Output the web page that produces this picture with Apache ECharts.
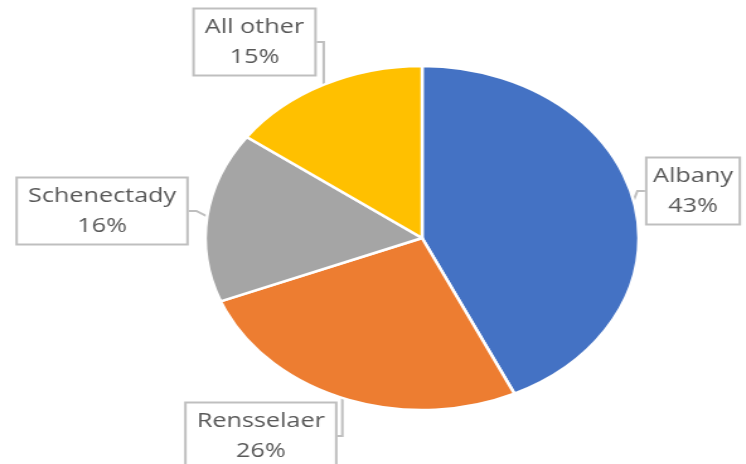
<!DOCTYPE html>
<html>
<head>
<meta charset="utf-8">
<script src="https://cdn.jsdelivr.net/npm/echarts@6/dist/echarts.min.js"></script>
<style>
  html, body { margin: 0; padding: 0; background: #fff; overflow: hidden; }
  #wrap { width: 746px; height: 464px; overflow: hidden; }
  /* the reference is stretched sideways, so draw narrow and widen */
  #chart { width: 592px; height: 464px; transform: scaleX(1.26); transform-origin: 0 0; }
</style>
</head>
<body>
<div id="wrap"><div id="chart"></div></div>
<script>
const categories = ['Albany', 'Rensselaer', 'Schenectady', 'All other']
const values = [43, 26, 16, 15]
const colors = ['#4472C4', '#ED7D31', '#A5A5A5', '#FFC000']
// label box centres (unscaled px)
const labelPos = [[550, 191], [207, 436], [81, 211], [202, 42]]

const myChart = echarts.init(document.getElementById('chart'))
const option = {
  animation: false,
  series: [
    {
      type: 'pie',
      center: [335, 238],
      radius: [0, 172],
      startAngle: 90,
      clockwise: true,
      data: categories.map((name, i) => ({ name, value: values[i], itemStyle: { color: colors[i] } })),
      itemStyle: { borderColor: '#fff', borderWidth: 2.5 },
      label: {
        show: true,
        formatter: '{b}\n{d}%',
        fontFamily: 'Open Sans',
        fontSize: 20,
        lineHeight: 30,
        color: '#595959',
        align: 'center',
        overflow: 'none',
        bleedMargin: 0,
        backgroundColor: '#fff',
        borderColor: '#bfbfbf',
        borderWidth: 2,
        padding: [3, 8, 2, 8]
      },
      labelLine: { show: true, length: 6, length2: 6, lineStyle: { color: '#bfbfbf', width: 2 } },
      labelLayout: function (params) {
        const p = labelPos[params.dataIndex]
        return { x: p[0], y: p[1], align: 'center', verticalAlign: 'middle', hideOverlap: false }
      }
    }
  ]
}
myChart.setOption(option)
</script>
</body>
</html>
